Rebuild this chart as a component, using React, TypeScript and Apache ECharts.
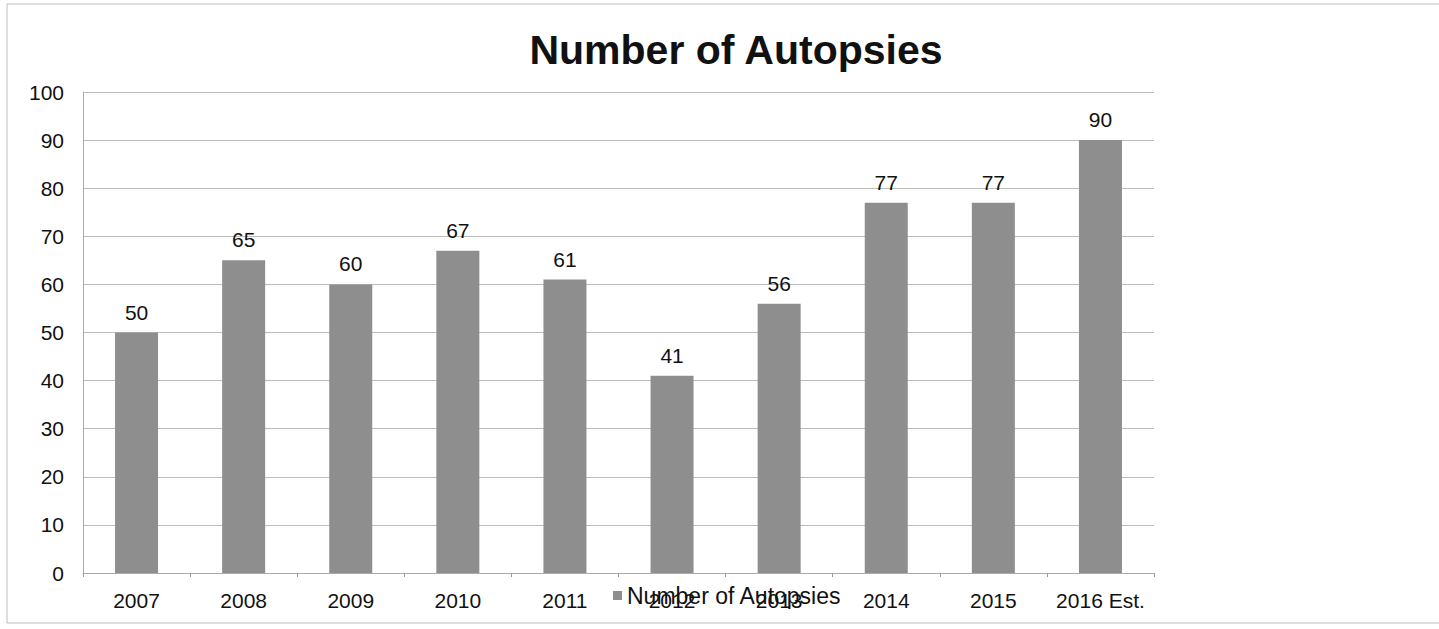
import React, { useEffect, useRef } from "react";
import * as echarts from "echarts";

const categories = ["2007", "2008", "2009", "2010", "2011", "2012", "2013", "2014", "2015", "2016 Est."];
const autopsies = [50, 65, 60, 67, 61, 41, 56, 77, 77, 90];
const seriesName = "Number of Autopsies";
const titleText = "Number of Autopsies";

export default function App() {
  const ref = useRef<HTMLDivElement>(null);
  useEffect(() => {
    if (!ref.current) return;
    const chart = echarts.init(ref.current, null, { renderer: "svg" });
    const font = "'Liberation Sans', Arial, Helvetica, sans-serif";
    chart.setOption({
      animation: false,
      backgroundColor: "#ffffff",
      textStyle: { fontFamily: font },
      title: {
        text: titleText,
        left: 731,
        textAlign: "center",
        top: 24,
        textStyle: { fontSize: 41, fontWeight: "bold", color: "#111", fontFamily: font },
      },
      legend: {
        data: [seriesName],
        left: 608,
        top: 579,
        itemWidth: 9,
        itemHeight: 9,
        itemGap: 3,
        icon: "rect",
        textStyle: { fontSize: 23, color: "#111", fontFamily: font },
      },
      graphic: [
        {
          type: "rect",
          shape: { x: 7, y: 4, width: 1450, height: 619 },
          style: { fill: "none", stroke: "#bdbdbd", lineWidth: 1 },
          silent: true,
        },
      ],
      grid: { left: 83, right: 285, top: 92, bottom: 56, containLabel: false },
      xAxis: {
        type: "category",
        data: categories,
        axisLine: { show: true, lineStyle: { color: "#aaaaaa", width: 1 } },
        axisTick: { show: true, alignWithLabel: false, interval: 0, length: 4, lineStyle: { color: "#999" } },
        axisLabel: { fontSize: 21, color: "#111", margin: 17, fontFamily: font, interval: 0, hideOverlap: false },
      },
      yAxis: {
        type: "value",
        min: 0,
        max: 100,
        interval: 10,
        axisLine: { show: true, lineStyle: { color: "#aaaaaa", width: 1 } },
        axisTick: { show: false },
        splitLine: { show: true, lineStyle: { color: "#bcbcbc", width: 1 } },
        axisLabel: { fontSize: 21, color: "#111", margin: 19, fontFamily: font },
      },
      series: [
        {
          name: seriesName,
          type: "bar",
          data: autopsies,
          barWidth: 43,
          itemStyle: { color: "#8e8e8e" },
          label: {
            show: true,
            position: "top",
            distance: 10,
            fontSize: 21,
            color: "#111",
            fontFamily: font,
          },
        },
      ],
    });
    return () => chart.dispose();
  }, []);
  return <div ref={ref} style={{ width: 1439, height: 629, position: "absolute", left: 0, top: 0 }} />;
}
